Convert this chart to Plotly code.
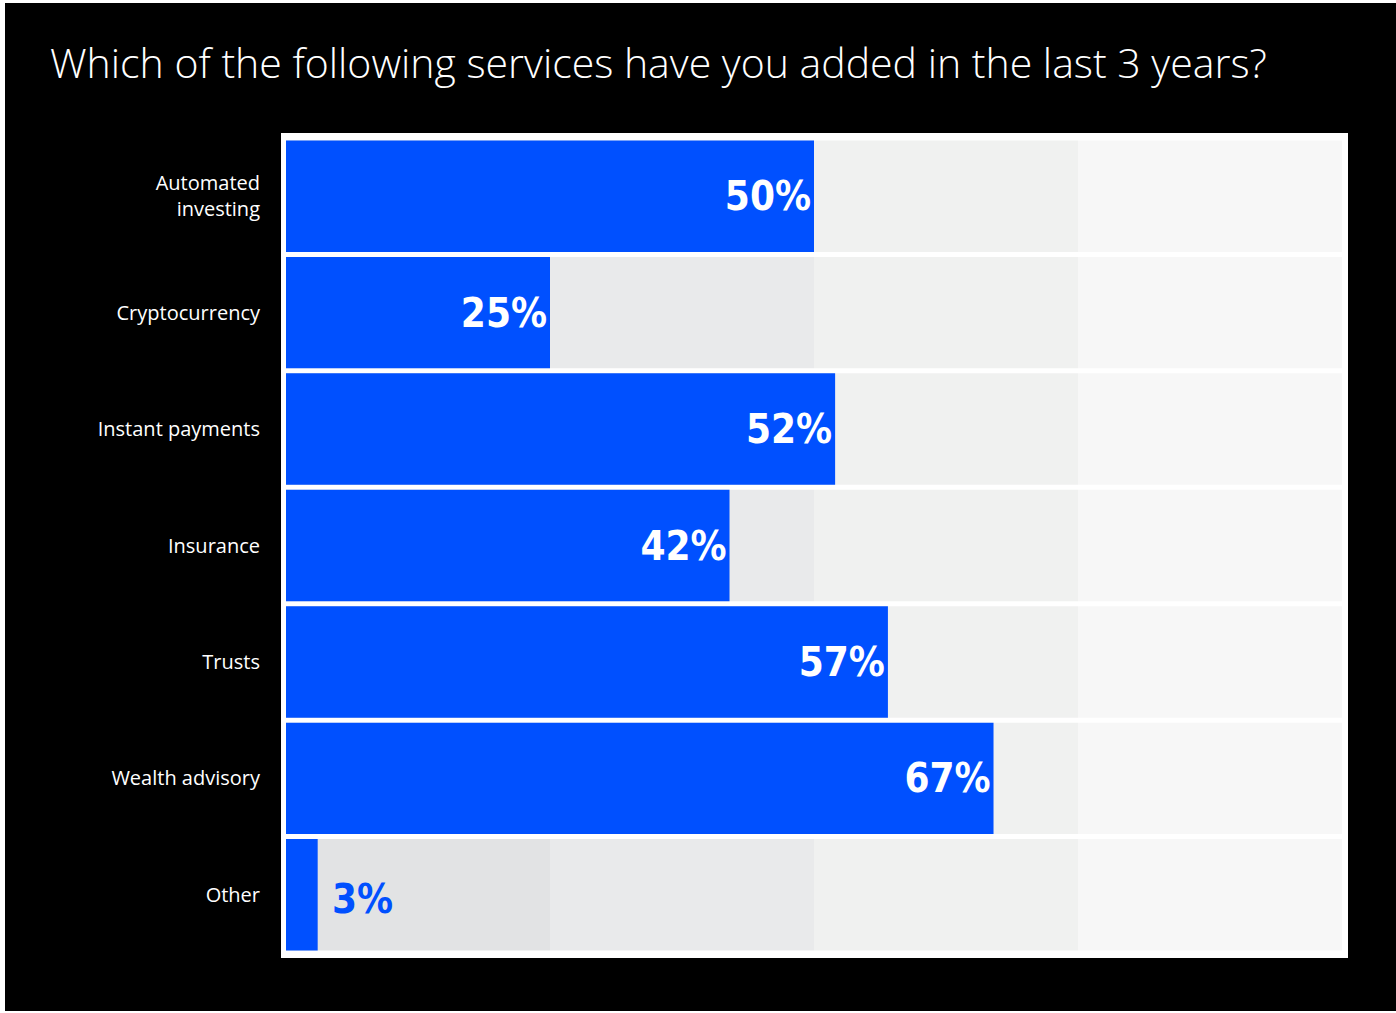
import plotly.graph_objects as go

# Survey results: share of firms that added each service in the last 3 years
categories = [
    "Automated<br>investing",
    "Cryptocurrency",
    "Instant payments",
    "Insurance",
    "Trusts",
    "Wealth advisory",
    "Other",
]
values = [50, 25, 52, 42, 57, 67, 3]
value_labels = ["50%", "25%", "52%", "42%", "57%", "67%", "3%"]

# Quarter bands drawn behind the bars
band_starts = [0, 25, 50, 75]
band_width = 25
band_colors = ["#e2e3e4", "#e9eaeb", "#f0f1f0", "#f7f7f7"]

TITLE = "Which of the following services have you added in the last 3 years?"
BLUE = "#0050ff"
W, H = 1396, 1013
L, R, T, B = 281, 1348, 133, 958  # plot area edges in pixels

LABEL_FONT = "Open Sans, Lato, sans-serif"
VALUE_FONT = "DejaVu Sans Condensed, Liberation Sans Narrow, sans-serif"

fig = go.Figure()

for start, color in zip(band_starts, band_colors):
    fig.add_trace(go.Bar(
        y=categories,
        x=[band_width] * len(categories),
        base=[start] * len(categories),
        orientation="h",
        marker=dict(color=color, line=dict(width=0)),
        hoverinfo="skip",
        showlegend=False,
    ))

inside_text = [t if v >= 10 else "" for t, v in zip(value_labels, values)]
fig.add_trace(go.Bar(
    y=categories,
    x=values,
    orientation="h",
    marker=dict(color=BLUE, line=dict(width=0)),
    text=inside_text,
    textposition="inside",
    insidetextanchor="end",
    constraintext="none",
    insidetextfont=dict(family=VALUE_FONT, size=40, color="white", weight="bold"),
    showlegend=False,
    hovertemplate="%{y}: %{x}%<extra></extra>",
))

# Small values get their label just past the bar end
for cat, v, t in zip(categories, values, value_labels):
    if v < 10:
        fig.add_annotation(
            x=v, y=cat, xref="x", yref="y", text=t, showarrow=False,
            xanchor="left", yanchor="middle", xshift=12, yshift=-4,
            font=dict(family=VALUE_FONT, size=40, color=BLUE, weight="bold"),
        )

pw, ph = R - L, B - T
px_per_unit_x = (1342 - 286) / 100.0
px_per_row = (953 - 138) / len(categories)


def px_x(p):
    return (p - L) / pw


def px_y(p):
    return (B - p) / ph


# Light edge strips along the left, top and bottom of the canvas
for x0, x1, y0, y1 in [
    (0, 5, 0, H),
    (0, W, 0, 3),
    (0, W, 1011, H),
]:
    fig.add_shape(type="rect", xref="paper", yref="paper",
                  x0=px_x(x0), x1=px_x(x1), y0=px_y(y1), y1=px_y(y0),
                  fillcolor="white", line=dict(width=0), layer="below")

fig.update_layout(
    width=W, height=H,
    margin=dict(l=L, r=W - R, t=T, b=H - B, pad=0),
    paper_bgcolor="black",
    plot_bgcolor="white",
    barmode="overlay",
    bargap=5 / px_per_row,
    title=dict(
        text=TITLE,
        x=50 / W, xanchor="left", xref="container",
        y=1 - 64 / H, yanchor="middle", yref="container",
        font=dict(family=LABEL_FONT, size=41, color="white", weight=300),
    ),
    xaxis=dict(
        range=[-5 / px_per_unit_x, 100 + 6 / px_per_unit_x],
        showgrid=False, zeroline=False, showticklabels=False,
        showline=False, fixedrange=True,
    ),
    yaxis=dict(
        categoryorder="array", categoryarray=categories,
        range=[len(categories) - 0.5 + 5 / px_per_row, -0.5 - 5 / px_per_row],
        showgrid=False, zeroline=False, showline=False,
        ticks="", ticklabelstandoff=20,
        tickfont=dict(family=LABEL_FONT, size=20, color="white"),
        fixedrange=True,
    ),
)

fig.write_html("out.html")
